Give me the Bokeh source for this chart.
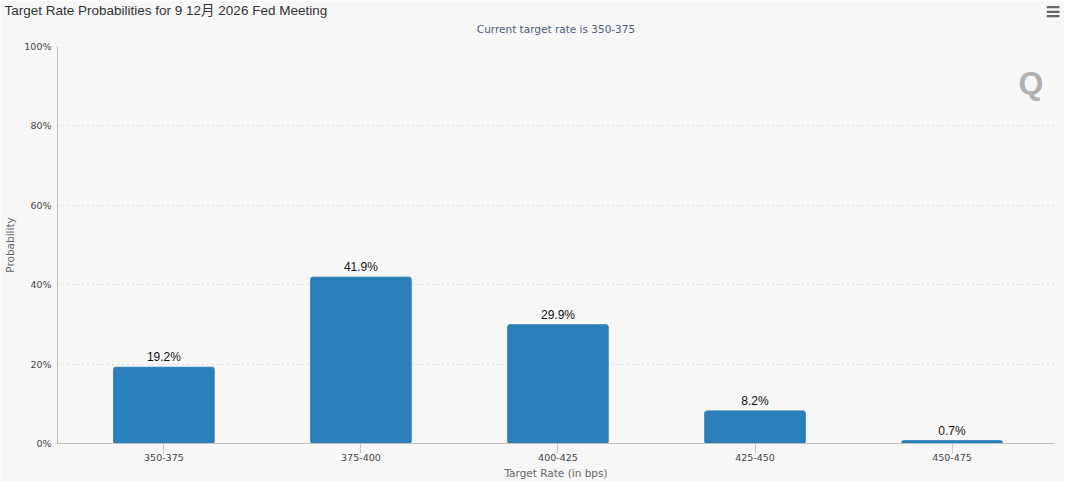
from bokeh.plotting import figure
from bokeh.models import FixedTicker, PrintfTickFormatter, Title, Label, ColumnDataSource
from bokeh.core.properties import value
from bokeh.embed import file_html
from bokeh.resources import INLINE

# ---- data ----
categories = ["350-375", "375-400", "400-425", "425-450", "450-475"]
probabilities = [19.2, 41.9, 29.9, 8.2, 0.7]
value_labels = ["19.2%", "41.9%", "29.9%", "8.2%", "0.7%"]
y_ticks = [0, 20, 40, 60, 80, 100]
title_text = "Target Rate Probabilities for 9 12月 2026 Fed Meeting"
subtitle_text = "Current target rate is 350-375"
x_label = "Target Rate (in bps)"
y_label = "Probability"

BG = "#f7f7f7"
BAR = "#2a7fb9"

xs = list(range(len(categories)))
src = ColumnDataSource(dict(x=xs, top=probabilities, lab=value_labels))

p = figure(width=1064, height=481, output_backend="svg", toolbar_location=None,
           x_range=(-0.54, 4.52), y_range=(0, 100),
           background_fill_color=BG, border_fill_color=BG,
           min_border_left=57, min_border_right=10, min_border_top=46, min_border_bottom=30)
p.outline_line_color = None
p.title = None

# titles (closest to frame first)
sub = Title(text=subtitle_text, align="center", text_font="DejaVu Sans", text_font_size="10.5px",
            text_font_style="normal", text_color="#4d5b7c", standoff=23, offset=-25)
p.add_layout(sub, "above")
main_title = Title(text=title_text, align="left",
                   text_font="'Liberation Sans', 'Noto Sans CJK SC', sans-serif",
                   text_font_size="13.5px", text_font_style="normal", text_color="#333333",
                   offset=-53, standoff=-17)
p.add_layout(main_title, "above")
menu = Title(text="≡", align="right", text_font="DejaVu Sans", text_font_size="20px",
             text_font_style="bold", text_color="#666666", standoff=-26, offset=-7)
p.add_layout(menu, "above")

# bars
p.vbar(x="x", top="top", width=0.51, source=src, fill_color=BAR, line_color=BAR,
       border_radius=2)
p.text(x="x", y="top", text="lab", source=src, text_align="center", text_baseline="bottom",
       y_offset=-3, text_font=value("Liberation Sans"), text_font_size="12px", text_color="#111111")

# watermark
wm = Label(x=4.40, y=90.8, text="Q", text_font="Liberation Sans", text_font_size="32px",
           text_font_style="bold", text_color="#b0b0b0", text_align="center", text_baseline="middle")
p.add_layout(wm)

# x axis
xa = p.xaxis[0]
xa.ticker = FixedTicker(ticks=xs)
xa.major_label_overrides = {i: c for i, c in zip(xs, categories)}
xa.axis_label = x_label
xa.axis_line_color = "#c0c0c0"
xa.major_tick_line_color = "#c8c8c8"
xa.major_tick_out = 10
xa.major_tick_in = 0
xa.minor_tick_line_color = None
xa.major_label_text_font = "DejaVu Sans"
xa.major_label_text_font_size = "9.5px"
xa.major_label_text_color = "#444444"
xa.major_label_standoff = 0
xa.axis_label_text_font = "DejaVu Sans"
xa.axis_label_text_font_size = "10.5px"
xa.axis_label_text_font_style = "normal"
xa.axis_label_text_color = "#666666"
xa.axis_label_standoff = 3

# y axis
ya = p.yaxis[0]
ya.ticker = FixedTicker(ticks=y_ticks)
ya.formatter = PrintfTickFormatter(format="%d%%")
ya.axis_label = y_label
ya.axis_line_color = "#c0c0c0"
ya.major_tick_line_color = None
ya.major_tick_out = 0
ya.major_tick_in = 0
ya.minor_tick_line_color = None
ya.minor_tick_out = 0
ya.major_label_text_font = "DejaVu Sans"
ya.major_label_text_font_size = "9.5px"
ya.major_label_text_color = "#444444"
ya.major_label_standoff = 6
ya.axis_label_text_font = "DejaVu Sans"
ya.axis_label_text_font_size = "10.5px"
ya.axis_label_text_font_style = "normal"
ya.axis_label_text_color = "#666666"
ya.axis_label_standoff = 5

p.xgrid.grid_line_color = None
p.ygrid.grid_line_color = "#c8c8c8"
p.ygrid.grid_line_dash = "1 4"

open("out.html", "w").write(file_html(p, INLINE))
